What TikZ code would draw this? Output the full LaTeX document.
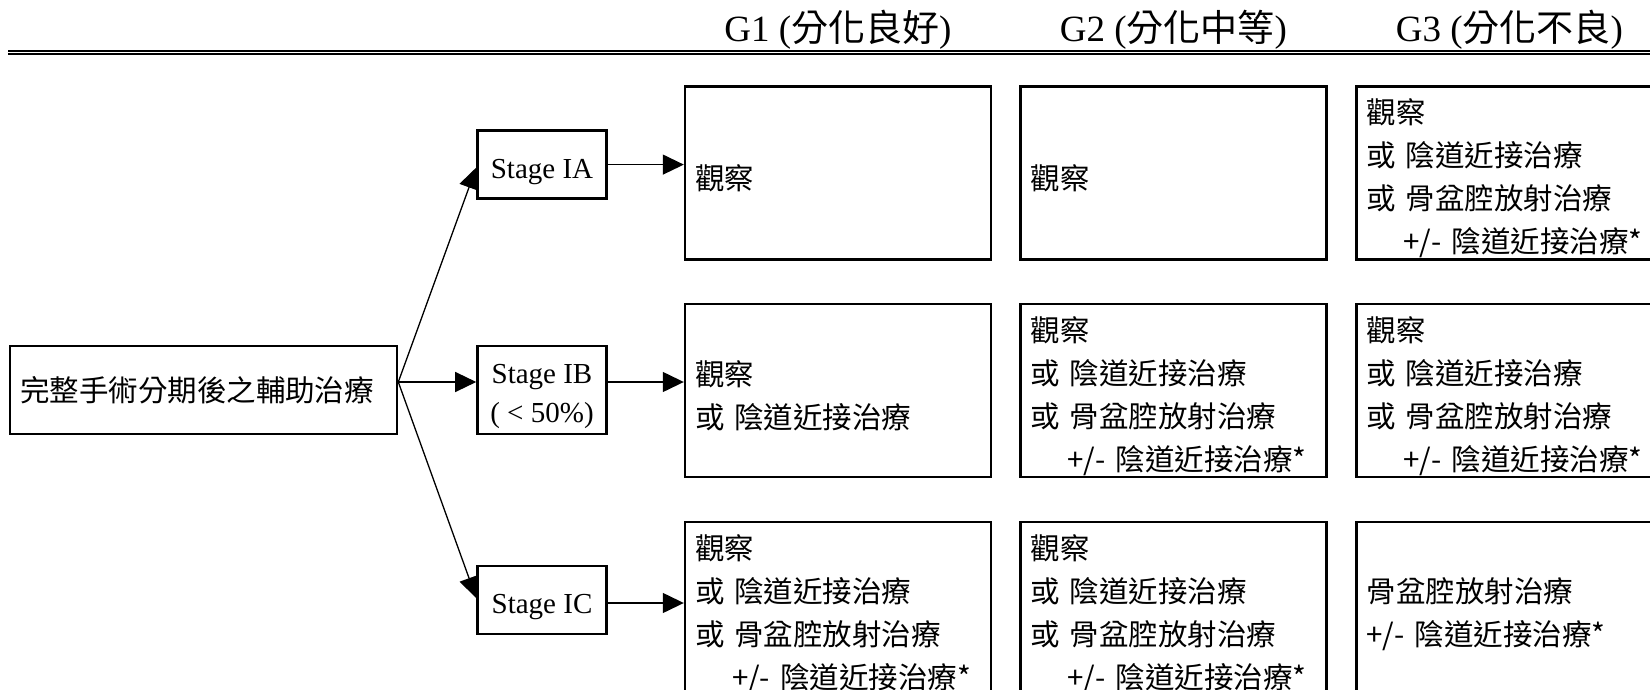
\documentclass[tikz,border=0pt]{standalone}
\usepackage{fontspec}
\setmainfont{Liberation Serif}
\newfontfamily\cjk{Noto Sans CJK TC}
\usetikzlibrary{arrows.meta}
\begin{document}
\begin{tikzpicture}[x=0.5pt,y=-0.5pt,
  hdr/.style={anchor=base, inner sep=0pt, font=\fontsize{18.5}{22}\selectfont},
  mainbox/.style={draw, line width=1.3pt, minimum width=193.5pt, minimum height=44pt,
    inner xsep=5pt, text width=183.5pt, align=left, font=\cjk\fontsize{14.75}{21.5}\selectfont},
  stagebox/.style={draw, line width=1.3pt, minimum width=64.5pt, inner sep=0pt,
    font=\fontsize{14.5}{19.5}\selectfont},
  gbox/.style={draw, line width=1.2pt, minimum width=153pt, minimum height=86.5pt,
    inner xsep=5pt, inner ysep=0pt, text width=143pt, align=left, text height=18pt,
    font=\cjk\fontsize{14.75}{21.5}\selectfont},
  gwide/.style={gbox, minimum width=173pt, text width=163pt},
  arr/.style={line width=0.65pt, -{Triangle[length=10.5pt,width=10pt]}}
]
\useasboundingbox[fill=white] (0,0) rectangle (1650,690);
\begin{scope}
\clip (0,0) rectangle (1650,690);

% header
\node[hdr] (h1) at (838,41.7) {G1 ({\cjk 分化良好})};
\node[hdr] (h2) at (1173.5,41.7) {G2 ({\cjk 分化中等})};
\node[hdr] (h3) at (1509.5,41.7) {G3 ({\cjk 分化不良})};
\draw[line width=0.8pt] (8,50.8) -- (1650,50.8);
\draw[line width=1pt] (8,54.3) -- (1650,54.3);

% main and stages
\node[mainbox] (main) at (203.5,390) {完整手術分期後之輔助治療};
\node[stagebox, minimum height=34pt, text height=13.4pt, text depth=0pt] (ia) at (542,164.6) {Stage IA};
\node[stagebox, minimum height=44pt, text height=10pt, text depth=17pt] (ib) at (542,390)
  {\begin{tabular}[t]{@{}c@{}}Stage IB\\( < 50\%)\end{tabular}};
\node[stagebox, minimum height=34pt, text height=13.4pt, text depth=0pt] (ic) at (542,600) {Stage IC};

% grade boxes
\node[gbox] (g11) at (838,173) {觀察};
\node[gbox] (g12) at (1173.5,173) {觀察};
\node[gwide] (g13) at (1529.5,173) {觀察\\或 陰道近接治療\\或 骨盆腔放射治療\\\hspace*{18.5pt}+/- 陰道近接治療*};

\node[gbox] (g21) at (838,390.5) {觀察\\或 陰道近接治療};
\node[gbox] (g22) at (1173.5,390.5) {觀察\\或 陰道近接治療\\或 骨盆腔放射治療\\\hspace*{18.5pt}+/- 陰道近接治療*};
\node[gwide] (g23) at (1529.5,390.5) {觀察\\或 陰道近接治療\\或 骨盆腔放射治療\\\hspace*{18.5pt}+/- 陰道近接治療*};

\node[gbox] (g31) at (838,608.5) {觀察\\或 陰道近接治療\\或 骨盆腔放射治療\\\hspace*{18.5pt}+/- 陰道近接治療*};
\node[gbox] (g32) at (1173.5,608.5) {觀察\\或 陰道近接治療\\或 骨盆腔放射治療\\\hspace*{18.5pt}+/- 陰道近接治療*};
\node[gwide] (g33) at (1529.5,608.5) {骨盆腔放射治療\\+/- 陰道近接治療*};

% connectors
\coordinate (src) at ([yshift=4pt]main.east);
\coordinate (ibout) at ([yshift=4pt]ib.east);
\coordinate (icout) at ([yshift=-1.5pt]ic.east);
\draw[arr] (src) -- ([yshift=-1.5pt]ia.west);
\draw[arr] (src) -- (src -| ib.west);
\draw[arr] (src) -- ([yshift=1pt]ic.west);
\draw[arr] (ia.east) -- (ia.east -| g11.west);
\draw[arr] (ibout) -- (ibout -| g21.west);
\draw[arr] (icout) -- (icout -| g31.west);
\end{scope}
\end{tikzpicture}
\end{document}
